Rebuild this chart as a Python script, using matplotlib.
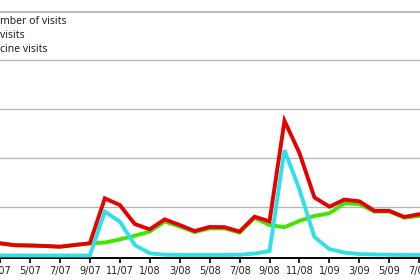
import matplotlib.pyplot as plt

# month labels every 2 months, data monthly from 3/07 to 7/09
tick_labels = ['3/07', '5/07', '7/07', '9/07', '11/07', '1/08', '3/08', '5/08',
               '7/08', '9/08', '11/08', '1/09', '3/09', '5/09', '7/09']
months = list(range(29))

total = [2.5, 2.1, 2.05, 1.95, 1.8, 2.15, 2.5, 11.7, 10.35, 6.45, 5.35, 7.4,
         6.25, 5.0, 5.85, 5.8, 4.9, 7.95, 7.0, 27.6, 21.0, 11.9, 10.0, 11.45,
         11.1, 9.15, 9.15, 7.9, 8.45]
other = [2.5, 2.1, 2.05, 1.95, 1.8, 2.15, 2.5, 2.65, 3.3, 4.05, 4.9, 6.95,
         5.95, 4.8, 5.55, 5.55, 4.7, 7.7, 6.25, 5.8, 7.1, 8.1, 8.65, 10.7,
         10.55, 9.0, 9.0, 7.75, 8.1]
vaccine = [0, 0, 0, 0, 0, 0, 0, 9.0, 6.95, 2.15, 0.45, 0.15, 0.1, 0.1, 0.1,
           0.1, 0.15, 0.4, 0.9, 21.6, 13.5, 3.8, 1.3, 0.6, 0.3, 0.2, 0.15,
           0.1, 0.1]
legend_texts = ['mber of visits', 'visits', 'cine visits']

fig = plt.figure(figsize=(4.2, 2.8), dpi=100)
ax = fig.add_axes([0, 22.5 / 280, 1, 257.5 / 280])

for g in [10, 20, 30, 40]:
    ax.axhline(g, color='#b4b4b4', lw=0.9, zorder=1)
ax.axhline(50, color='#a8a8a8', lw=1.1, zorder=1)

ax.plot(months, other, color='#3fe600', lw=2.8, zorder=2, solid_joinstyle='miter')
ax.plot(months, total, color='#e60000', lw=2.8, zorder=3, solid_joinstyle='miter')
ax.plot(months, vaccine, color='#30e0e8', lw=2.8, zorder=4, solid_joinstyle='miter')

ax.set_xlim(0.42, 28.05)
ax.set_ylim(-0.41, 52.36)
ax.set_xticks(range(0, 29, 2))
ax.set_xticklabels(tick_labels, fontsize=7, color='#222222')
ax.set_yticks([])
ax.tick_params(axis='x', direction='out', length=3.8, width=1.2, pad=2.5)
for s in ['top', 'left', 'right']:
    ax.spines[s].set_visible(False)
ax.spines['bottom'].set_linewidth(1.4)
ax.spines['bottom'].set_zorder(1.5)

for i, t in enumerate(legend_texts):
    fig.text(-0.001, 1 - (21 + 14 * i) / 280, t, fontsize=7.5, family='Noto Sans',
             color='#222222', ha='left', va='center')

fig.savefig('out.png', dpi=100)
